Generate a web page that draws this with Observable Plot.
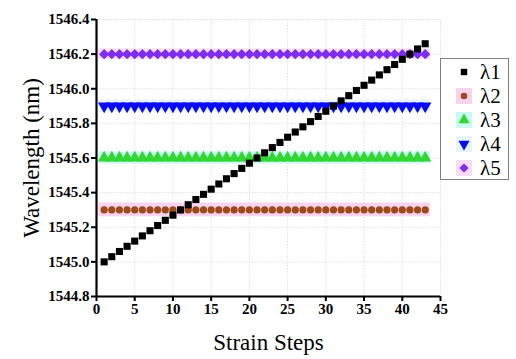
<!DOCTYPE html>
<html><head><meta charset="utf-8">
<script src="https://cdn.jsdelivr.net/npm/d3@7"></script>
<script src="https://cdn.jsdelivr.net/npm/@observablehq/plot@0.6"></script>
<style>
body{margin:0;background:#fff;}
#wrap{position:relative;width:516px;height:359px;}
#legend{position:absolute;left:440px;top:58px;}
</style></head><body>
<div id="wrap"><div id="chart"></div><svg id="legend" width="70" height="122" font-family="Liberation Serif"></svg></div>
<script>
const steps = [1,2,3,4,5,6,7,8,9,10,11,12,13,14,15,16,17,18,19,20,21,22,23,24,25,26,27,28,29,30,31,32,33,34,35,36,37,38,39,40,41,42,43];
const lambda1 = [1545.00,1545.03,1545.06,1545.09,1545.12,1545.15,1545.18,1545.21,1545.24,1545.27,1545.30,1545.33,1545.36,1545.39,1545.42,1545.45,1545.48,1545.51,1545.54,1545.57,1545.60,1545.63,1545.66,1545.69,1545.72,1545.75,1545.78,1545.81,1545.84,1545.87,1545.90,1545.93,1545.96,1545.99,1546.02,1546.05,1546.08,1546.11,1546.14,1546.17,1546.20,1546.23,1546.26];
const lambda2 = [1545.3,1545.3,1545.3,1545.3,1545.3,1545.3,1545.3,1545.3,1545.3,1545.3,1545.3,1545.3,1545.3,1545.3,1545.3,1545.3,1545.3,1545.3,1545.3,1545.3,1545.3,1545.3,1545.3,1545.3,1545.3,1545.3,1545.3,1545.3,1545.3,1545.3,1545.3,1545.3,1545.3,1545.3,1545.3,1545.3,1545.3,1545.3,1545.3,1545.3,1545.3,1545.3,1545.3];
const lambda3 = [1545.6,1545.6,1545.6,1545.6,1545.6,1545.6,1545.6,1545.6,1545.6,1545.6,1545.6,1545.6,1545.6,1545.6,1545.6,1545.6,1545.6,1545.6,1545.6,1545.6,1545.6,1545.6,1545.6,1545.6,1545.6,1545.6,1545.6,1545.6,1545.6,1545.6,1545.6,1545.6,1545.6,1545.6,1545.6,1545.6,1545.6,1545.6,1545.6,1545.6,1545.6,1545.6,1545.6];
const lambda4 = [1545.9,1545.9,1545.9,1545.9,1545.9,1545.9,1545.9,1545.9,1545.9,1545.9,1545.9,1545.9,1545.9,1545.9,1545.9,1545.9,1545.9,1545.9,1545.9,1545.9,1545.9,1545.9,1545.9,1545.9,1545.9,1545.9,1545.9,1545.9,1545.9,1545.9,1545.9,1545.9,1545.9,1545.9,1545.9,1545.9,1545.9,1545.9,1545.9,1545.9,1545.9,1545.9,1545.9];
const lambda5 = [1546.2,1546.2,1546.2,1546.2,1546.2,1546.2,1546.2,1546.2,1546.2,1546.2,1546.2,1546.2,1546.2,1546.2,1546.2,1546.2,1546.2,1546.2,1546.2,1546.2,1546.2,1546.2,1546.2,1546.2,1546.2,1546.2,1546.2,1546.2,1546.2,1546.2,1546.2,1546.2,1546.2,1546.2,1546.2,1546.2,1546.2,1546.2,1546.2,1546.2,1546.2,1546.2,1546.2];
const seriesNames = ["λ1","λ2","λ3","λ4","λ5"];
const seriesValues = [lambda1, lambda2, lambda3, lambda4, lambda5];
const colors = ["#000000","#9c4a1a","#33d633","#0a0af5","#7d2cf0"];
const symbols = ["square","circle","triangle","triangle","diamond2"];
const rotations = [0,0,0,180,0];
const sizes = [4,3.6,4.6,4.6,4.6];
const bandColors = [null,"#fbd3ee","#c9fbf4","#e4f6fb","#f8dcf6"];
const bandHalf = [0,0.04,0.035,0.035,0.03];
const bandX = [0.3, 43.7];
const xTicks = [0,5,10,15,20,25,30,35,40,45];
const yTicks = [1544.8,1545.0,1545.2,1545.4,1545.6,1545.8,1546.0,1546.2,1546.4];
const FONT = "Liberation Serif";

const rows = [];
seriesValues.forEach((vals,si)=>vals.forEach((v,i)=>rows.push({x:steps[i],y:v,s:si})));
const bands = [];
seriesValues.forEach((vals,si)=>{ if(bandColors[si]) bands.push({x1:bandX[0],x2:bandX[1],y1:vals[0]-bandHalf[si],y2:vals[0]+bandHalf[si],s:si}); });

const marks = [
  Plot.gridX(xTicks,{stroke:"#d8d8d8",strokeOpacity:1,strokeWidth:0.8,strokeDasharray:"1.5,1.5"}),
  Plot.gridY(yTicks,{stroke:"#d8d8d8",strokeOpacity:1,strokeWidth:0.8,strokeDasharray:"1.5,1.5"}),
  Plot.rect(bands,{x1:"x1",x2:"x2",y1:"y1",y2:"y2",fill:d=>bandColors[d.s]}),
];
[1,2,3,4,0].forEach(si=>{
  marks.push(Plot.dot(rows.filter(d=>d.s===si),{x:"x",y:"y",symbol:()=>symbols[si],fill:colors[si],stroke:"none",r:sizes[si],rotate:rotations[si]}));
});
marks.push(
  Plot.axisX({ticks:xTicks,tickSize:5,tickPadding:2,fontSize:15,fontWeight:"bold",fontFamily:FONT,label:"Strain Steps",labelAnchor:"center",labelArrow:"none",labelOffset:53}),
  Plot.axisY({ticks:yTicks,tickSize:5,tickPadding:2,fontSize:15,fontWeight:"bold",fontFamily:FONT,tickFormat:d=>d.toFixed(1),label:"Wavelength (nm)",labelAnchor:"center",labelArrow:"none",labelOffset:74}),
  Plot.ruleX([0],{stroke:"#000",strokeWidth:2.2}),
  Plot.ruleY([1544.8],{stroke:"#000",strokeWidth:2.2})
);

const chart = Plot.plot({
  width:516,height:359,
  marginLeft:96,marginRight:76,marginTop:19,marginBottom:63,
  x:{domain:[0,45]},
  y:{domain:[1544.8,1546.4]},
  symbol:{type:"identity"},
  marks
});
document.getElementById("chart").appendChild(chart);
chart.setAttribute("font-family", FONT);
d3.select(chart).selectAll("text").attr("font-family", FONT).style("font-family", FONT);
d3.select(chart).selectAll("g[aria-label='x-axis label'] text, g[aria-label='y-axis label'] text")
  .attr("font-size","23").attr("font-weight","normal").style("font-size","23px").style("font-weight","normal");
d3.select(chart).selectAll("g[aria-label='x-axis tick'] path, g[aria-label='y-axis tick'] path").attr("stroke-width",2);

// legend
const lg = d3.select("#legend");
lg.append("rect").attr("x",0.5).attr("y",0.5).attr("width",68).attr("height",121).attr("fill","#fff").attr("stroke","#808080").attr("stroke-width",1);
const symMap = {square:d3.symbolSquare,circle:d3.symbolCircle,triangle:d3.symbolTriangle,diamond2:d3.symbolDiamond2};
seriesNames.forEach((name,i)=>{
  const cy = 14 + i*24;
  if(bandColors[i]) lg.append("rect").attr("x",16).attr("y",cy-8).attr("width",16).attr("height",16).attr("fill",bandColors[i]);
  lg.append("path").attr("d",d3.symbol(symMap[symbols[i]],Math.PI*(sizes[i]*0.9)**2)())
    .attr("transform",`translate(24,${cy}) rotate(${rotations[i]})`).attr("fill",colors[i]);
  lg.append("text").attr("x",40).attr("y",cy).attr("dy","0.35em").text(name)
    .attr("font-family",FONT).attr("font-size","21").style("font-family",FONT).style("font-size","21px");
});
</script></body></html>
